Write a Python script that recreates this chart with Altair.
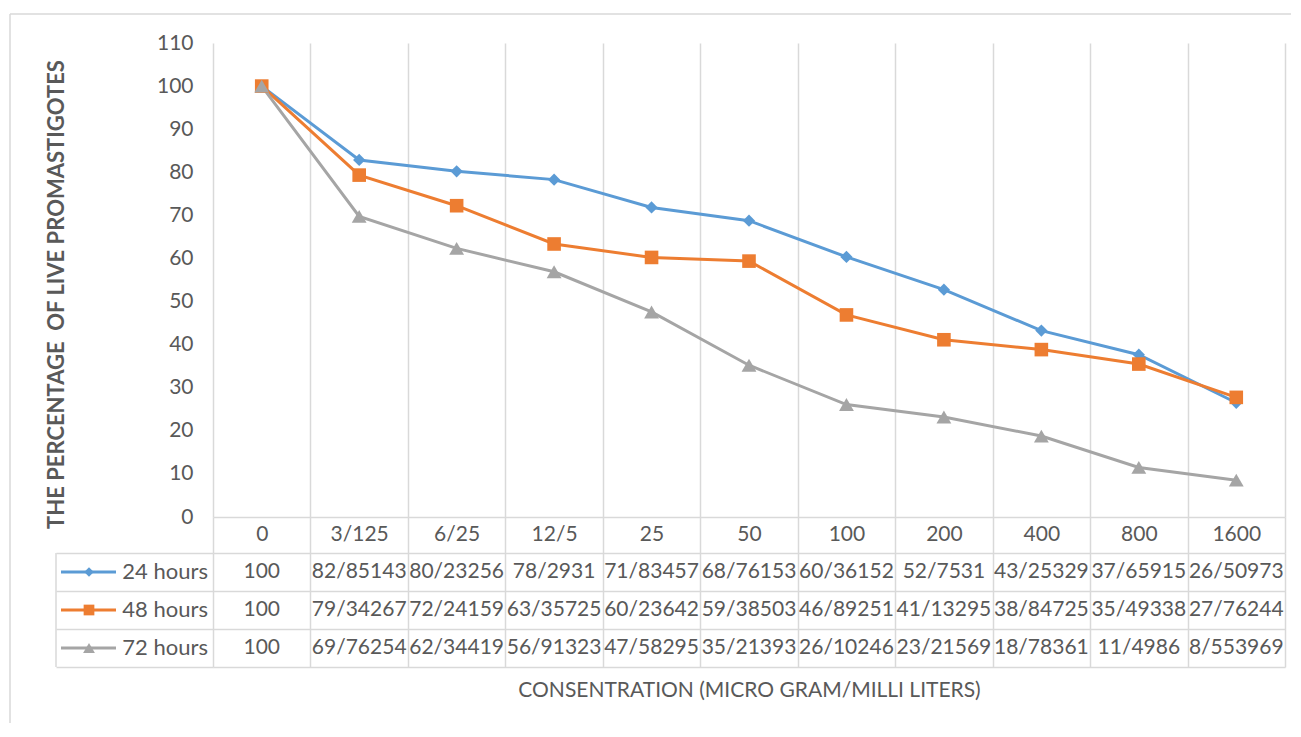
import altair as alt
import pandas as pd

# ---- data ----
categories = ["0", "3/125", "6/25", "12/5", "25", "50", "100", "200", "400", "800", "1600"]
series_names = ["24 hours", "48 hours", "72 hours"]
h24 = ["100", "82/85143", "80/23256", "78/2931", "71/83457", "68/76153",
       "60/36152", "52/7531", "43/25329", "37/65915", "26/50973"]
h48 = ["100", "79/34267", "72/24159", "63/35725", "60/23642", "59/38503",
       "46/89251", "41/13295", "38/84725", "35/49338", "27/76244"]
h72 = ["100", "69/76254", "62/34419", "56/91323", "47/58295", "35/21393",
       "26/10246", "23/21569", "18/78361", "11/4986", "8/553969"]
y_ticks = list(range(0, 111, 10))
colors = ["#5B9BD5", "#ED7D31", "#A5A5A5"]
shapes = ["diamond", "square", "triangle-up"]

y_title = "THE PERCENTAGE \u00a0OF LIVE PROMASTIGOTES"
x_title = "CONSENTRATION (MICRO GRAM/MILLI LITERS)"

rows = []
for s, labels in zip(series_names, [h24, h48, h72]):
    for i, (c, lab) in enumerate(zip(categories, labels)):
        rows.append({"cat": c, "idx": i, "series": s, "label": lab,
                     "value": float(lab.replace("/", "."))})
df = pd.DataFrame(rows)
leg_df = pd.DataFrame({"series": series_names})
one = pd.DataFrame({"a": [0]})

# ---- style ----
W, H = 1072, 474
ROW_H = 38
FONT = "Lato"
GRID = "#D9D9D9"
TXT = "#595959"

x_scale = alt.Scale(type="band", domain=categories, paddingInner=0, paddingOuter=0)
color_scale = alt.Scale(domain=series_names, range=colors)
shape_scale = alt.Scale(domain=series_names, range=shapes)

color_enc = alt.Color("series:N", scale=color_scale, legend=None)
shape_enc = alt.Shape("series:N", scale=shape_scale, legend=None)

x_top = alt.X("cat:O", scale=x_scale,
              axis=alt.Axis(title=None, orient="bottom", domain=True, domainColor=GRID,
                            domainWidth=1.5, ticks=True, tickBand="extent", tickSize=36,
                            tickColor=GRID, tickWidth=1.5, grid=True, gridColor=GRID,
                            gridWidth=1.5, labelFont=FONT, labelFontSize=21,
                            labelColor=TXT, labelPadding=-19, labelBaseline="middle",
                            labelAngle=0))
y_top = alt.Y("value:Q", scale=alt.Scale(domain=[0, 110], nice=False),
              axis=alt.Axis(values=y_ticks, title=y_title, titleFont=FONT,
                            titleFontSize=22, titleFontWeight="bold", titleColor=TXT,
                            titlePadding=88, titleY=251, domain=False, ticks=False,
                            grid=False, labelFont=FONT, labelFontSize=21,
                            labelColor=TXT, labelPadding=20))

lines = alt.Chart(df).mark_line(strokeWidth=3).encode(
    x=x_top, y=y_top, color=color_enc, order=alt.Order("idx:Q"))
points = alt.Chart(df).mark_point(filled=True, opacity=1).encode(
    x=x_top, y=y_top, color=color_enc, shape=shape_enc,
    size=alt.Size("series:N", scale=alt.Scale(domain=series_names, range=[150, 220, 250]),
                  legend=None))

border_top = alt.Chart(one).mark_rule(color=GRID, strokeWidth=1.5).encode(
    x=alt.value(-203), x2=alt.value(1078), y=alt.value(-29))
border_left = alt.Chart(one).mark_rule(color=GRID, strokeWidth=1.5).encode(
    x=alt.value(-203), y=alt.value(-29), y2=alt.value(680))

top = alt.layer(border_top, border_left, lines, points).properties(width=W, height=H)

# ---- data table ----
x_bot = alt.X("cat:O", scale=x_scale,
              axis=alt.Axis(title=x_title, orient="bottom", labels=False, ticks=False,
                            domain=False, grid=True, gridColor=GRID, gridWidth=1.5,
                            tickBand="extent", titleFont=FONT, titleFontSize=21,
                            titleFontWeight="normal", titleColor=TXT, titlePadding=12))
y_bot = alt.Y("series:N", bandPosition=0.5,
              scale=alt.Scale(type="band", domain=series_names, paddingInner=0,
                              paddingOuter=0),
              axis=alt.Axis(title=None, labels=False, domain=False, ticks=True,
                            tickBand="extent", tickSize=157, tickColor=GRID,
                            tickWidth=1.5, grid=True, gridColor=GRID, gridWidth=1.5))

cells = alt.Chart(df).mark_text(font=FONT, fontSize=21, color=TXT, baseline="middle").encode(
    x=x_bot, y=y_bot, text="label:N")

leg_line = alt.Chart(leg_df).mark_rule(strokeWidth=3).encode(
    x=alt.value(-152), x2=alt.value(-97), y=y_bot, color=color_enc)
leg_pt = alt.Chart(leg_df).mark_point(filled=True, opacity=1).encode(
    x=alt.value(-124), y=y_bot, color=color_enc, shape=shape_enc,
    size=alt.Size("series:N", scale=alt.Scale(domain=series_names, range=[90, 140, 150]),
                  legend=None))
leg_txt = alt.Chart(leg_df).mark_text(align="right", baseline="middle", font=FONT,
                                      fontSize=22, color=TXT).encode(
    x=alt.value(-5), y=y_bot, text="series:N")
leg_border = alt.Chart(one).mark_rule(color=GRID, strokeWidth=1.5).encode(
    x=alt.value(-157), y=alt.value(0), y2=alt.value(ROW_H * 3))

bottom = alt.layer(cells, leg_border, leg_line, leg_pt, leg_txt).properties(
    width=W, height=ROW_H * 3)

chart = alt.vconcat(top, bottom, spacing=36, bounds="flush").resolve_scale(
    size="independent").properties(
    padding={"left": 0, "top": 4, "right": 0, "bottom": 0}
).configure_view(stroke="transparent")

chart.save("out.html", embed_options={"renderer": "svg", "actions": False})
